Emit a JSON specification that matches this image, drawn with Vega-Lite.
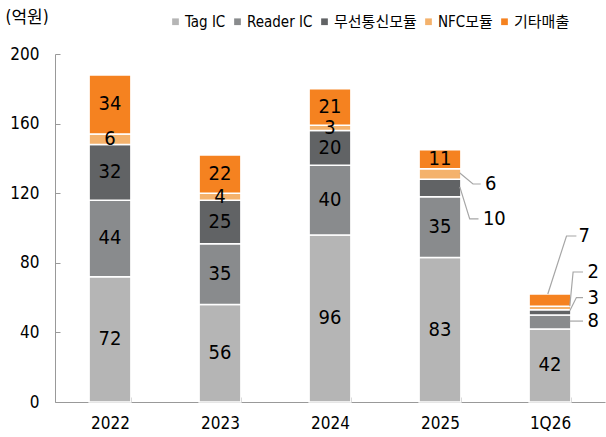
{
  "$schema": "https://vega.github.io/schema/vega-lite/v6.json",
  "width": 550,
  "height": 348,
  "autosize": {"type": "none"},
  "padding": {"left": 55, "top": 54, "right": 1, "bottom": 35},
  "config": {
    "font": "Liberation Sans Narrow, DejaVu Sans Condensed, Noto Sans CJK KR, sans-serif",
    "view": {"stroke": null}
  },
  "datasets": {
    "main": [
      {"year": "2022", "series": "Tag IC", "idx": 1, "value": 72, "inside": true},
      {"year": "2022", "series": "Reader IC", "idx": 2, "value": 44, "inside": true},
      {"year": "2022", "series": "무선통신모듈", "idx": 3, "value": 32, "inside": true},
      {"year": "2022", "series": "NFC모듈", "idx": 4, "value": 6, "inside": true},
      {"year": "2022", "series": "기타매출", "idx": 5, "value": 34, "inside": true},
      {"year": "2023", "series": "Tag IC", "idx": 1, "value": 56, "inside": true},
      {"year": "2023", "series": "Reader IC", "idx": 2, "value": 35, "inside": true},
      {"year": "2023", "series": "무선통신모듈", "idx": 3, "value": 25, "inside": true},
      {"year": "2023", "series": "NFC모듈", "idx": 4, "value": 4, "inside": true},
      {"year": "2023", "series": "기타매출", "idx": 5, "value": 22, "inside": true},
      {"year": "2024", "series": "Tag IC", "idx": 1, "value": 96, "inside": true},
      {"year": "2024", "series": "Reader IC", "idx": 2, "value": 40, "inside": true},
      {"year": "2024", "series": "무선통신모듈", "idx": 3, "value": 20, "inside": true},
      {"year": "2024", "series": "NFC모듈", "idx": 4, "value": 3, "inside": true},
      {"year": "2024", "series": "기타매출", "idx": 5, "value": 21, "inside": true},
      {"year": "2025", "series": "Tag IC", "idx": 1, "value": 83, "inside": true},
      {"year": "2025", "series": "Reader IC", "idx": 2, "value": 35, "inside": true},
      {"year": "2025", "series": "무선통신모듈", "idx": 3, "value": 10, "inside": false},
      {"year": "2025", "series": "NFC모듈", "idx": 4, "value": 6, "inside": false},
      {"year": "2025", "series": "기타매출", "idx": 5, "value": 11, "inside": true},
      {"year": "1Q26", "series": "Tag IC", "idx": 1, "value": 42, "inside": true},
      {"year": "1Q26", "series": "Reader IC", "idx": 2, "value": 8, "inside": false},
      {"year": "1Q26", "series": "무선통신모듈", "idx": 3, "value": 3, "inside": false},
      {"year": "1Q26", "series": "NFC모듈", "idx": 4, "value": 2, "inside": false},
      {"year": "1Q26", "series": "기타매출", "idx": 5, "value": 7, "inside": false}
    ],
    "callouts": [
      {"id": "c6", "k": 0, "u": 3.68, "v": 131.6},
      {"id": "c6", "k": 1, "u": 3.80, "v": 125.3},
      {"id": "c6", "k": 2, "u": 3.87, "v": 125.3},
      {"id": "c10", "k": 0, "u": 3.68, "v": 123.6},
      {"id": "c10", "k": 1, "u": 3.77, "v": 105.2},
      {"id": "c10", "k": 2, "u": 3.85, "v": 105.2},
      {"id": "c7", "k": 0, "u": 4.48, "v": 62.1},
      {"id": "c7", "k": 1, "u": 4.65, "v": 95.4},
      {"id": "c7", "k": 2, "u": 4.74, "v": 95.4},
      {"id": "c2", "k": 0, "u": 4.68, "v": 55},
      {"id": "c2", "k": 1, "u": 4.71, "v": 74.7},
      {"id": "c2", "k": 2, "u": 4.80, "v": 74.7},
      {"id": "c3", "k": 0, "u": 4.68, "v": 52.5},
      {"id": "c3", "k": 1, "u": 4.74, "v": 60},
      {"id": "c3", "k": 2, "u": 4.80, "v": 60},
      {"id": "c8", "k": 0, "u": 4.68, "v": 46.5},
      {"id": "c8", "k": 1, "u": 4.80, "v": 46.5}
    ],
    "outlabels": [
      {"label": "6", "u": 3.91, "v": 125.3},
      {"label": "10", "u": 3.89, "v": 105.2},
      {"label": "7", "u": 4.76, "v": 95.4},
      {"label": "2", "u": 4.84, "v": 74.7},
      {"label": "3", "u": 4.84, "v": 60},
      {"label": "8", "u": 4.84, "v": 46.5}
    ]
  },
  "layer": [
    {
      "data": {"name": "main"},
      "mark": {"type": "bar", "stroke": "white", "strokeWidth": 1.5},
      "encoding": {
        "x": {
          "field": "year", "type": "nominal", "sort": null,
          "scale": {"type": "band", "paddingInner": 0.62, "paddingOuter": 0.31},
          "axis": {
            "title": null, "labelAngle": 0, "labelFontSize": 17, "labelColor": "#000",
            "labelPadding": 18, "tickBand": "extent", "tickSize": -5,
            "domainColor": "#999", "tickColor": "#999"
          }
        },
        "y": {
          "field": "value", "type": "quantitative", "stack": "zero",
          "scale": {"domain": [0, 200]},
          "axis": {
            "values": [0, 40, 80, 120, 160, 200], "grid": false,
            "domainColor": "#999", "tickColor": "#999", "tickSize": -5,
            "labelFontSize": 17, "labelColor": "#000", "labelPadding": 21,
            "title": "(억원)", "titleAngle": 0, "titleFontSize": 17, "titleFontWeight": "normal",
            "titleColor": "#000", "titleX": -50, "titleY": -37, "titleAlign": "left", "titleBaseline": "middle"
          }
        },
        "color": {
          "field": "series", "type": "nominal",
          "scale": {
            "domain": ["Tag IC", "Reader IC", "무선통신모듈", "NFC모듈", "기타매출"],
            "range": ["#b5b5b5", "#898b8d", "#616365", "#f4b26c", "#f58220"]
          },
          "legend": {
            "orient": "none", "legendX": 113, "legendY": -40, "direction": "horizontal",
            "title": null, "symbolType": "square", "symbolSize": 45, "symbolStrokeWidth": 0,
            "labelFontSize": 15, "labelColor": "#000", "columnPadding": 4, "labelOffset": 2
          }
        },
        "order": {"field": "idx"}
      }
    },
    {
      "data": {"name": "main"},
      "mark": {"type": "text", "fontSize": 20, "baseline": "middle", "color": "#000"},
      "encoding": {
        "x": {
          "field": "year", "type": "nominal", "sort": null,
          "scale": {"type": "band", "paddingInner": 0.62, "paddingOuter": 0.31},
          "axis": null
        },
        "y": {"field": "value", "type": "quantitative", "stack": "zero", "bandPosition": 0.5},
        "detail": {"field": "series"},
        "order": {"field": "idx"},
        "text": {"condition": {"test": "datum.inside", "field": "value"}, "value": ""}
      }
    },
    {
      "data": {"name": "callouts"},
      "mark": {"type": "line", "color": "#a6a6a6", "strokeWidth": 1.2},
      "encoding": {
        "x": {"field": "u", "type": "quantitative", "scale": {"domain": [0, 5]}, "axis": null},
        "y": {"field": "v", "type": "quantitative"},
        "detail": {"field": "id"},
        "order": {"field": "k"}
      }
    },
    {
      "data": {"name": "outlabels"},
      "mark": {"type": "text", "align": "left", "baseline": "middle", "fontSize": 20, "color": "#000"},
      "encoding": {
        "x": {"field": "u", "type": "quantitative", "scale": {"domain": [0, 5]}, "axis": null},
        "y": {"field": "v", "type": "quantitative"},
        "text": {"field": "label"}
      }
    }
  ],
  "resolve": {"scale": {"x": "independent"}}
}
